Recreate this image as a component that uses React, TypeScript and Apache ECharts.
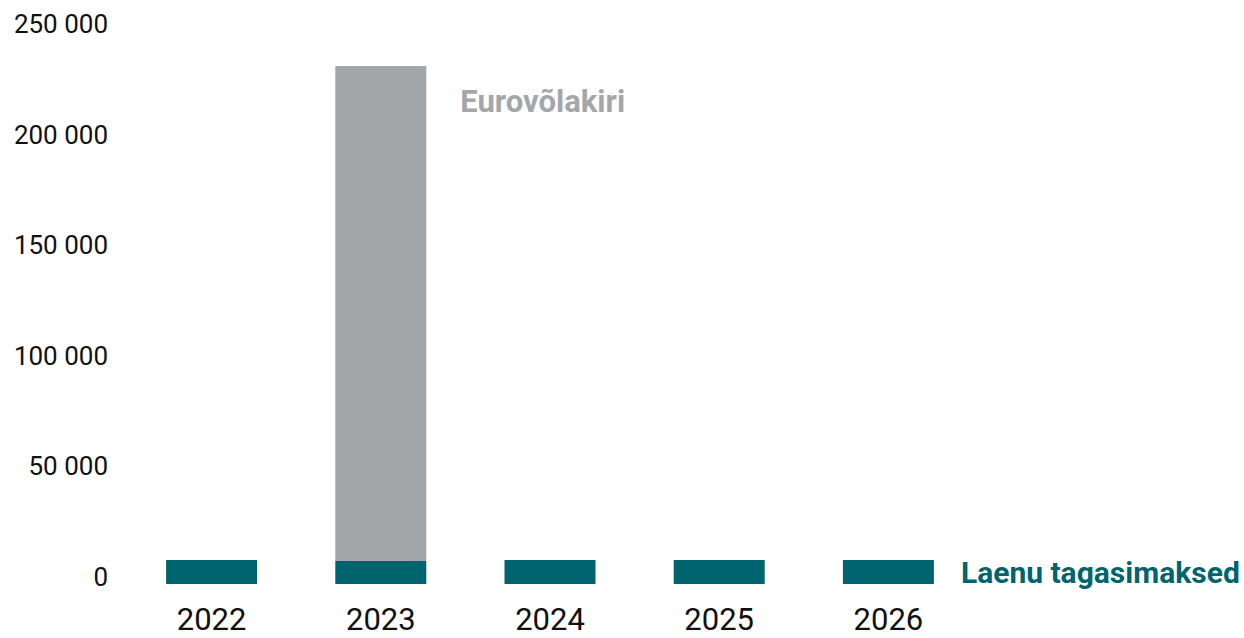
import React, { useEffect, useRef } from "react";
import * as echarts from "echarts";

const years = ["2022", "2023", "2024", "2025", "2026"];
const loanRepayments = [10800, 10400, 10800, 10800, 10800];
const eurobond = [0, 223800, 0, 0, 0];
const yTicks = { min: 0, max: 250000, interval: 50000 };
const loanName = "Laenu tagasimaksed";
const bondName = "Eurovõlakiri";

const TEAL = "#00646e";
const GRAY = "#a4a7aa";
const FONT = "Roboto";

export default function App() {
  const ref = useRef<HTMLDivElement>(null);
  useEffect(() => {
    if (!ref.current) return;
    const chart = echarts.init(ref.current, undefined, { renderer: "svg" });
    chart.setOption({
      animation: false,
      grid: { left: 127, right: 271, top: 31, bottom: 54, containLabel: false },
      xAxis: {
        type: "category",
        data: years,
        axisLine: { show: false },
        axisTick: { show: false },
        axisLabel: { color: "#111", fontFamily: FONT, fontSize: 31, lineHeight: 28, margin: 21 },
      },
      yAxis: {
        type: "value",
        min: yTicks.min,
        max: yTicks.max,
        interval: yTicks.interval,
        splitLine: { show: false },
        axisLine: { show: false },
        axisTick: { show: false },
        axisLabel: {
          color: "#111",
          fontFamily: FONT,
          fontSize: 26,
          margin: 19,
          verticalAlign: "bottom",
          lineHeight: 14,
          formatter: (v: number) => String(v).replace(/\B(?=(\d{3})+(?!\d))/g, " "),
        },
      },
      series: [
        {
          name: loanName,
          type: "bar",
          stack: "a",
          barWidth: 91,
          itemStyle: { color: TEAL },
          data: loanRepayments.map((v, i) =>
            i === loanRepayments.length - 1
              ? {
                  value: v,
                  label: {
                    show: true,
                    position: "right",
                    distance: 27,
                    formatter: loanName,
                    color: TEAL,
                    fontFamily: FONT,
                    fontWeight: "bold",
                    fontSize: 30,
                  },
                }
              : v
          ),
        },
        {
          name: bondName,
          type: "bar",
          stack: "a",
          barWidth: 91,
          itemStyle: { color: GRAY },
          data: eurobond.map((v) =>
            v > 0
              ? {
                  value: v,
                  label: {
                    show: true,
                    position: [125, 36],
                    align: "left",
                    verticalAlign: "middle",
                    formatter: bondName,
                    color: GRAY,
                    fontFamily: FONT,
                    fontWeight: "bold",
                    fontSize: 31,
                  },
                }
              : { value: v, itemStyle: { color: "transparent" } }
          ),
        },
      ],
    });
    return () => chart.dispose();
  }, []);
  return (
    <div
      ref={ref}
      style={{ position: "absolute", left: 0, top: 0, width: 1244, height: 638, background: "#fff" }}
    />
  );
}
